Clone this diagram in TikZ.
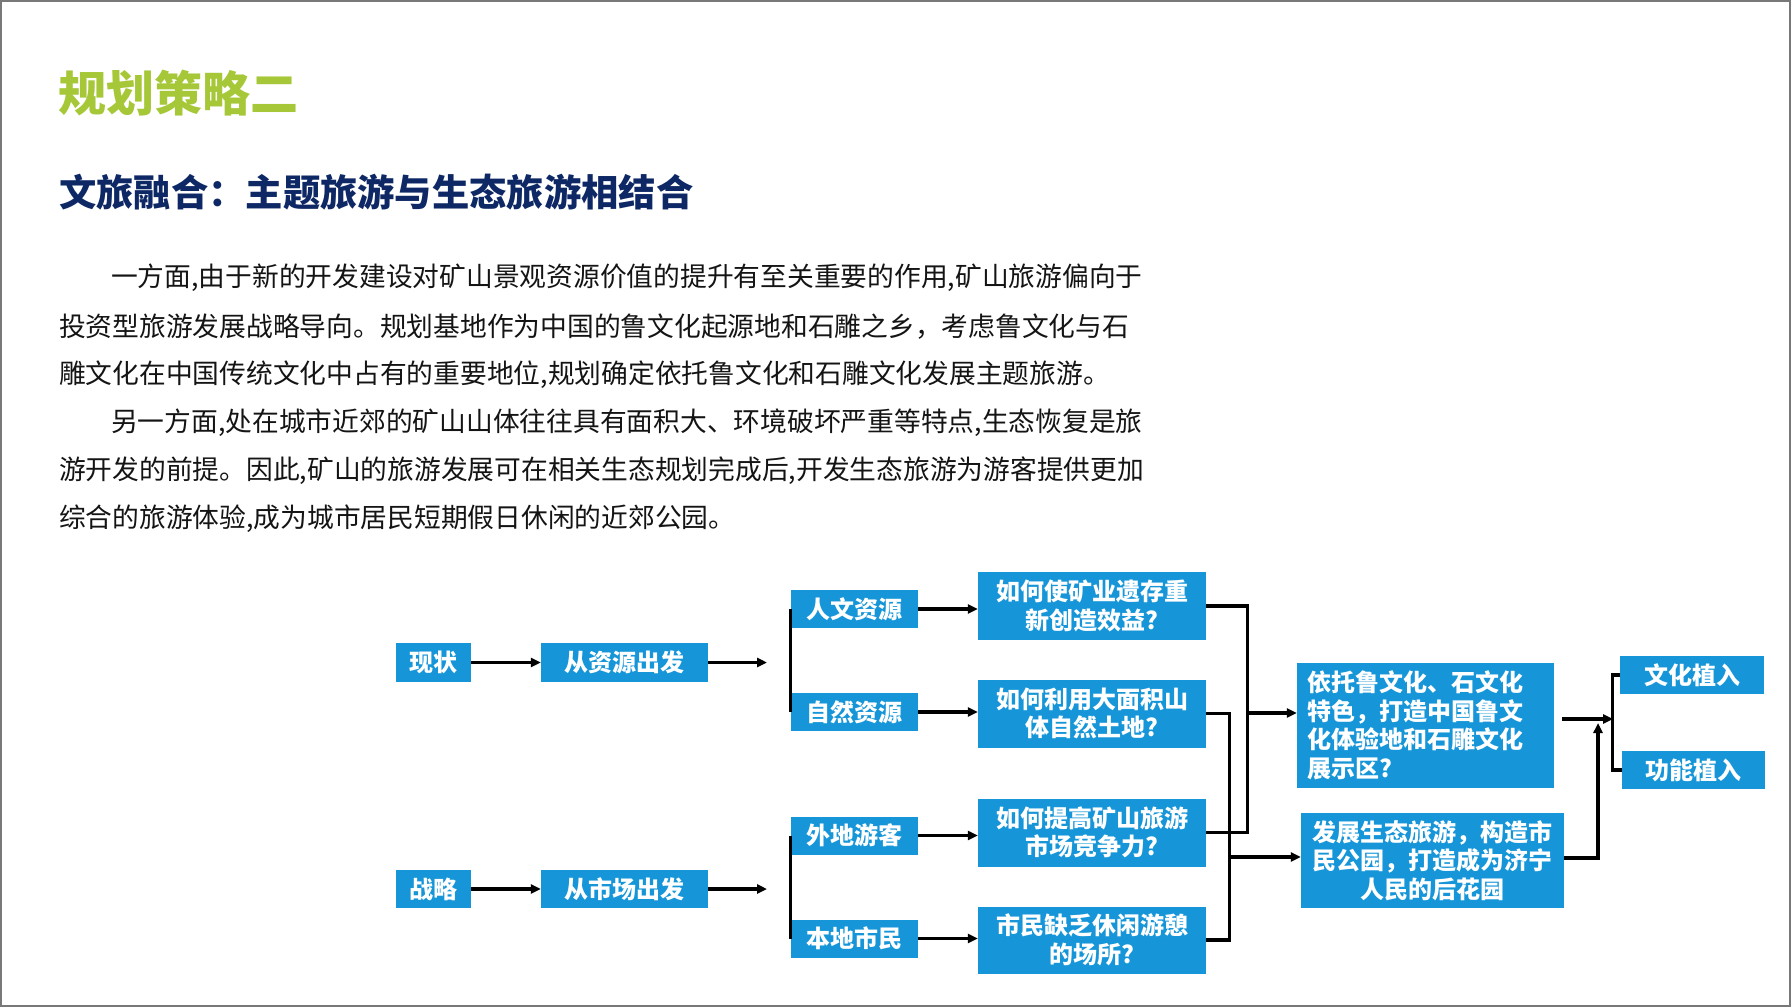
\documentclass[tikz,border=0pt]{standalone}
\usepackage{fontspec}
\setmainfont{Noto Sans CJK SC}
\usetikzlibrary{arrows.meta}
\definecolor{boxblue}{RGB}{22,150,216}
\definecolor{titlegreen}{RGB}{166,200,56}
\definecolor{navy}{RGB}{14,40,101}
\definecolor{bodytext}{RGB}{20,20,20}
\definecolor{framegray}{RGB}{120,120,120}
\begin{document}
\begin{tikzpicture}[x=1pt,y=-1pt,
  bx/.style={fill=boxblue, text=white, font=\bfseries\fontsize{24pt}{28.5pt}\selectfont, inner sep=0pt, align=center},
  conn/.style={line width=3.2pt, black},
  arr/.style={conn, -{Triangle[length=10pt,width=9pt]}},
  bodyline/.style={anchor=west, inner sep=0pt, text=bodytext, font=\fontsize{26.75pt}{30pt}\selectfont}
]
\useasboundingbox (0,0) rectangle (1792,1008);
\fill[white] (0,0) rectangle (1792,1008);
\draw[framegray, line width=1.5pt] (1,1) rectangle (1790,1006);

% titles
\node[anchor=west, inner sep=0pt, text=titlegreen, font=\bfseries\fontsize{48pt}{52pt}\selectfont] (t1) at (58,93) {规划策略二};
\node[anchor=west, inner sep=0pt, text=navy, font=\bfseries\fontsize{37.3pt}{40pt}\selectfont] (t2) at (59,192) {文旅融合：主题旅游与生态旅游相结合};

% body text
\node[bodyline] (b1) at (111,278) {一方面,由于新的开发建设对矿山景观资源价值的提升有至关重要的作用,矿山旅游偏向于};
\node[bodyline] (b2) at (59,327) {投资型旅游发展战略导向。规划基地作为中国的鲁文化起源地和石雕之乡，考虑鲁文化与石};
\node[bodyline] (b3) at (59,375) {雕文化在中国传统文化中占有的重要地位,规划确定依托鲁文化和石雕文化发展主题旅游。};
\node[bodyline] (b4) at (111,423) {另一方面,处在城市近郊的矿山山体往往具有面积大、环境破坏严重等特点,生态恢复是旅};
\node[bodyline] (b5) at (59,471) {游开发的前提。因此,矿山的旅游发展可在相关生态规划完成后,开发生态旅游为游客提供更加};
\node[bodyline] (b6) at (59,519) {综合的旅游体验,成为城市居民短期假日休闲的近郊公园。};

% diagram boxes
\node[bx, minimum width=75pt, minimum height=39pt] (xz) at (433.5,662.5) {现状};
\node[bx, minimum width=167pt, minimum height=39pt] (zy) at (624.5,662.5) {从资源出发};
\node[bx, minimum width=75pt, minimum height=38pt] (zl) at (433.5,889) {战略};
\node[bx, minimum width=167pt, minimum height=38pt] (sc) at (624.5,889) {从市场出发};

\node[bx, minimum width=127pt, minimum height=38pt] (rw) at (854.5,609) {人文资源};
\node[bx, minimum width=127pt, minimum height=38pt] (zr) at (854.5,712) {自然资源};
\node[bx, minimum width=127pt, minimum height=38pt] (wd) at (854.5,835.5) {外地游客};
\node[bx, minimum width=127pt, minimum height=38pt] (bd) at (854.5,938.5) {本地市民};

\node[bx, minimum width=228pt, minimum height=68pt] (q1) at (1092,606) {如何使矿业遗存重\\新创造效益?};
\node[bx, minimum width=228pt, minimum height=68pt] (q2) at (1092,713.5) {如何利用大面积山\\体自然土地?};
\node[bx, minimum width=228pt, minimum height=68pt] (q3) at (1092,832.5) {如何提高矿山旅游\\市场竞争力?};
\node[bx, minimum width=228pt, minimum height=67pt] (q4) at (1092,940) {市民缺乏休闲游憩\\的场所?};

\node[bx, align=left, inner xsep=10pt, text width=237pt, minimum height=125pt] (yt) at (1425.5,725.5) {依托鲁文化、石文化\\特色，打造中国鲁文\\化体验地和石雕文化\\展示区?};
\node[bx, minimum width=263pt, minimum height=95pt] (fz) at (1432.5,860.5) {发展生态旅游，构造市\\民公园，打造成为济宁\\人民的后花园};

\node[bx, minimum width=144pt, minimum height=38pt] (wh) at (1692,675) {文化植入};
\node[bx, minimum width=143pt, minimum height=38pt] (gn) at (1693.5,770) {功能植入};

% connectors, left part
\draw[arr] (xz.east) -- (zy.west);
\draw[arr] (zl.east) -- (sc.west);
\coordinate (e1) at (767,662.5);
\coordinate (e2) at (767,889);
\draw[arr] (zy.east) -- (e1);
\draw[arr] (sc.east) -- (e2);
\draw[conn] (rw.west) -- (zr.west);
\draw[conn] (wd.west) -- (bd.west);

\draw[arr] (rw.east) -- (rw.east -| q1.west);
\draw[arr] (zr.east) -- (zr.east -| q2.west);
\draw[arr] (wd.east) -- (wd.east -| q3.west);
\draw[arr] (bd.east) -- (bd.east -| q4.west);

% connectors, middle part
\draw[conn] (q1.east) -- ++(41,0) |- (q3.east);
\draw[conn] (q2.east) -- ++(23,0) |- (q4.east);
\coordinate (ja) at (1247,713);
\coordinate (jb) at (1229,857);
\draw[arr] (ja) -- (ja -| yt.west);
\draw[arr] (jb) -- (jb -| fz.west);

% connectors, right part
\coordinate (br) at (1613,719);
\coordinate (up) at (1598,723);
\draw[arr] ([xshift=8pt,yshift=6.5pt]yt.east) -- (br);
\draw[arr] ([yshift=2.5pt]fz.east) -| (up);
\draw[conn] (wh.west) -- ++(-7,0) |- (gn.west);
\end{tikzpicture}
\end{document}
